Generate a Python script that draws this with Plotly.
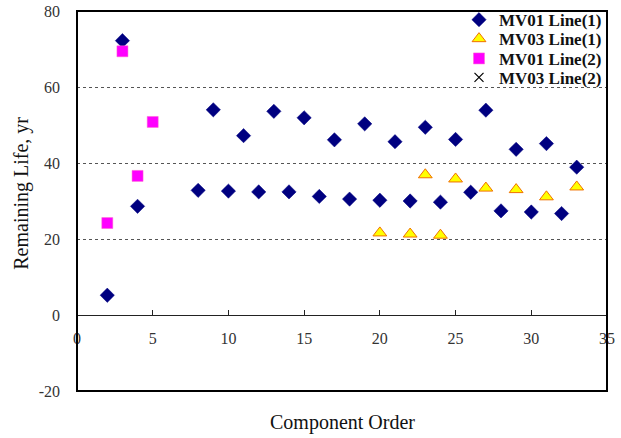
import plotly.graph_objects as go

# MV01 Line(1)
mv01_l1_x = [2, 3, 4, 8, 9, 10, 11, 12, 13, 14, 15, 16, 17, 18, 19, 20, 21, 22, 23, 24, 25, 26, 27, 28, 29, 30, 31, 32, 33]
mv01_l1_y = [5.2, 72.2, 28.6, 32.8, 54.0, 32.6, 47.2, 32.4, 53.6, 32.4, 51.9, 31.2, 46.1, 30.5, 50.3, 30.2, 45.6, 30.0, 49.4, 29.7, 46.2, 32.3, 53.9, 27.4, 43.6, 27.1, 45.1, 26.7, 38.9]
# MV03 Line(1)
mv03_l1_x = [20, 22, 23, 24, 25, 27, 29, 31, 33]
mv03_l1_y = [21.6, 21.3, 36.9, 21.0, 35.8, 33.4, 33.0, 31.1, 33.7]
# MV01 Line(2)
mv01_l2_x = [2, 3, 4, 5]
mv01_l2_y = [24.2, 69.4, 36.6, 50.8]
# MV03 Line(2) (no visible points)
mv03_l2_x = [None]
mv03_l2_y = [None]

x_ticks = [0, 5, 10, 15, 20, 25, 30, 35]
y_ticks = [-20, 0, 20, 40, 60, 80]

serif = "Liberation Serif, Times New Roman, serif"

fig = go.Figure()
fig.add_trace(go.Scatter(x=mv01_l1_x, y=mv01_l1_y, mode="markers", name="MV01 Line(1)",
                         legend="legend",
                         marker=dict(symbol="diamond", size=11, color="#000080",
                                     line=dict(color="#000080", width=0.5))))
fig.add_trace(go.Scatter(x=mv03_l1_x, y=mv03_l1_y, mode="markers", name="MV03 Line(1)",
                         legend="legend2",
                         marker=dict(symbol="triangle-up", size=12, color="#FFFF00",
                                     line=dict(color="#F07000", width=1))))
fig.add_trace(go.Scatter(x=mv01_l2_x, y=mv01_l2_y, mode="markers", name="MV01 Line(2)",
                         legend="legend3",
                         marker=dict(symbol="square", size=11, color="#FF00FF",
                                     line=dict(color="#FF66CC", width=0.5))))
fig.add_trace(go.Scatter(x=mv03_l2_x, y=mv03_l2_y, mode="markers", name="MV03 Line(2)",
                         legend="legend4",
                         marker=dict(symbol="x-thin", size=9, color="#000000",
                                     line=dict(color="#000000", width=1.2))))

legend_font = dict(family=serif, size=17, color="#111", weight="bold")


def leg(ypos):
    return dict(x=1, y=ypos, xanchor="right", yanchor="middle",
                bgcolor="rgba(255,255,255,0)",
                borderwidth=0, font=legend_font, itemwidth=30)


fig.update_layout(
    width=621, height=438,
    margin=dict(l=77, r=14, t=11, b=47, autoexpand=False),
    paper_bgcolor="white", plot_bgcolor="white",
    font=dict(family=serif, size=13, color="#222"),
    showlegend=True,
    legend=leg(0.976),
    legend2=leg(0.926),
    legend3=leg(0.874),
    legend4=leg(0.824),
    xaxis=dict(range=[0, 35], tickvals=x_ticks, ticktext=[str(v) for v in x_ticks],
               anchor="free", position=0.2, showline=True, linecolor="#222", linewidth=1,
               ticks="inside", ticklen=5, tickcolor="#222", showgrid=False, zeroline=False,
               automargin=False, ticklabelstandoff=9, ticklabeloverflow="allow",
               tickfont=dict(family=serif, size=16, color="#333")),
    yaxis=dict(range=[-20, 80], tickvals=y_ticks, ticktext=[str(v) for v in y_ticks],
               showgrid=True, gridcolor="#555", griddash="dot", gridwidth=1,
               zeroline=False, showline=False, ticks="", automargin=False,
               ticklabelstandoff=16, ticklabeloverflow="allow",
               tickfont=dict(family=serif, size=16, color="#333")),
    shapes=[
        # legend backdrop interrupting the 60 gridline
        dict(type="rect", xref="paper", yref="paper", x0=0.79, x1=1, y0=0.79, y1=0.81,
             line=dict(width=0), fillcolor="white", layer="between"),
        dict(type="rect", xref="paper", yref="paper", x0=0, x1=1, y0=0, y1=1,
             line=dict(color="black", width=2), fillcolor="rgba(0,0,0,0)", layer="above"),
    ],
    annotations=[
        dict(text="Component Order", xref="paper", yref="paper", x=0.5, y=-0.082,
             xanchor="center", yanchor="middle", showarrow=False,
             font=dict(family=serif, size=20, color="#111")),
        dict(text="Remaining Life, yr", xref="paper", yref="paper", x=-0.105, y=0.52,
             xanchor="center", yanchor="middle", showarrow=False, textangle=-90,
             font=dict(family=serif, size=20, color="#111")),
    ],
)

fig.write_html("out.html", config={"displayModeBar": False},
               post_script="document.body.style.margin='0px';")
